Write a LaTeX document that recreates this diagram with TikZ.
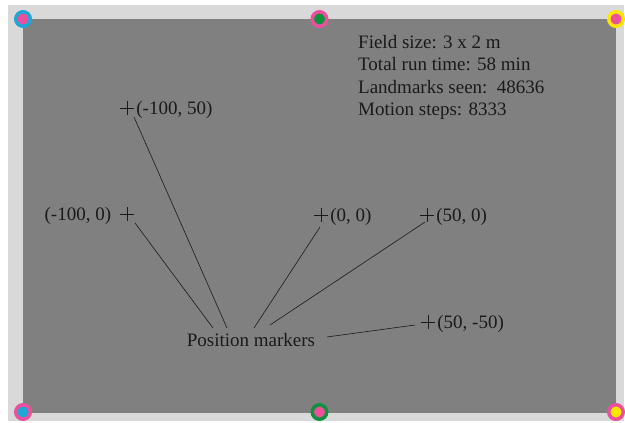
\documentclass[tikz,border=0pt]{standalone}
\usepackage{fontspec}
\setmainfont{Liberation Serif}
\usetikzlibrary{positioning}

\definecolor{fieldgray}{HTML}{808080}
\definecolor{rimgray}{HTML}{D9D9D9}
\definecolor{mcyan}{HTML}{1EA7D6}
\definecolor{mpink}{HTML}{EC4F9B}
\definecolor{mgreen}{HTML}{10913F}
\definecolor{myellow}{HTML}{FFE600}
\definecolor{ink}{HTML}{1A1A1A}

\begin{document}
\begin{tikzpicture}[x=1pt,y=-1pt]
\tikzstyle{every node}+=[inner sep=0pt, text=ink, font=\fontsize{19}{22.3}\selectfont]
\tikzstyle{fieldmark}=[circle, minimum size=14.5pt, line width=3.5pt]
\tikzstyle{plusmark}=[minimum size=14pt, path picture={
  \draw[ink, line width=0.8pt] (path picture bounding box.west) -- (path picture bounding box.east)
    (path picture bounding box.north) -- (path picture bounding box.south);}]
\tikzstyle{coordtext}=[yshift=-1.5pt]
\tikzstyle{leader}=[ink, line width=0.6pt]
\useasboundingbox (0,0) rectangle (625,423);
% field
\fill[rimgray] (8,5) rectangle (624,421);
\fill[fieldgray] (23,19) rectangle (616,413);
% corner and edge marks
\node[fieldmark, draw=mcyan, fill=mpink] (c1) at (23,19) {};
\node[fieldmark, draw=mpink, fill=mgreen] (c2) at (319.5,19) {};
\node[fieldmark, draw=myellow, fill=mpink] (c3) at (616,19) {};
\node[fieldmark, draw=mpink, fill=mcyan] (c4) at (23,412) {};
\node[fieldmark, draw=mgreen, fill=mpink] (c5) at (319.5,412) {};
\node[fieldmark, draw=mpink, fill=myellow] (c6) at (616,412) {};
% run summary
\node[anchor=base west] (s1) at (358,48.5) {Field size: 3 x 2 m};
\node[anchor=base west] (s2) at (358,70.8) {Total run time: 58 min};
\node[anchor=base west] (s3) at (358,93.1) {Landmarks seen:\ \ 48636};
\node[anchor=base west] (s4) at (358,115.4) {Motion steps: 8333};
% markers
\node[plusmark] (m1) at (127,108) {};
\node[plusmark] (m2) at (127,214) {};
\node[plusmark] (m3) at (321,215) {};
\node[plusmark] (m4) at (427,215) {};
\node[plusmark] (m5) at (428,322) {};
\node[coordtext, right=2pt of m1] (l1) {(-100, 50)};
\node[coordtext, left=8.5pt of m2] (l2) {(-100, 0)};
\node[coordtext, right=2pt of m3] (l3) {(0, 0)};
\node[coordtext, right=2pt of m4] (l4) {(50, 0)};
\node[coordtext, right=2pt of m5] (l5) {(50, -50)};
\node (pm) at (251,340) {Position markers};
% leaders
\draw[leader] ([shift={(7,9)}]m1.center) -- ([shift={(-24,-12)}]pm.center);
\draw[leader] ([shift={(8,9)}]m2.center) -- ([shift={(-38,-12)}]pm.center);
\draw[leader] ([shift={(-1,12)}]m3.center) -- ([shift={(3,-12)}]pm.center);
\draw[leader] ([shift={(-2,7)}]m4.center) -- ([shift={(19,-15)}]pm.center);
\draw[leader] ([shift={(76,-3)}]pm.center) -- ([shift={(-13,3)}]m5.center);
\end{tikzpicture}
\end{document}
